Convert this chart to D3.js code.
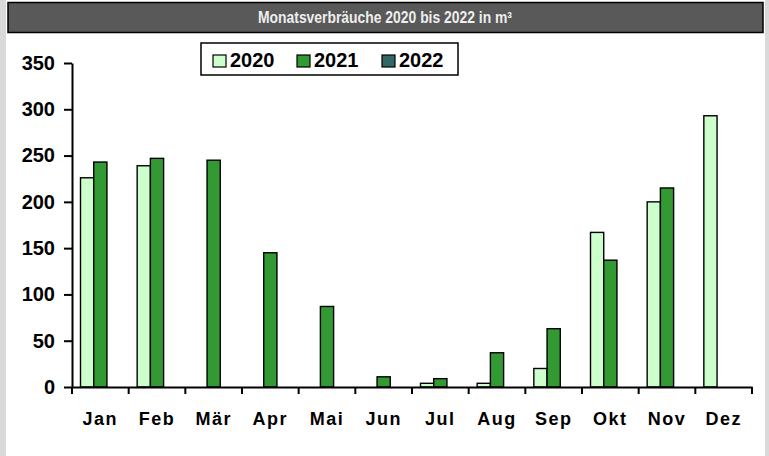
<!DOCTYPE html>
<html>
<head>
<meta charset="utf-8">
<script src="https://cdn.jsdelivr.net/npm/d3@7"></script>
<style>
  body { margin: 0; background: #d9d9d9; }
  svg { display: block; font-family: "Liberation Sans", Arial, sans-serif; }
</style>
</head>
<body>
<svg id="chart"></svg>
<script>
// Daten
let monate = ['Jan', 'Feb', 'Mär', 'Apr', 'Mai', 'Jun', 'Jul', 'Aug', 'Sep', 'Okt', 'Nov', 'Dez'];
let jahre = ['2020', '2021', '2022'];
let werte2020 = [226, 239, null, null, null, null, 4, 4, 20, 167, 200, 293];
let werte2021 = [243, 247, 245, 145, 87, 11, 9, 37, 63, 137, 215, null];
let werte2022 = [null, null, null, null, null, null, null, null, null, null, null, null];
let yTicks = [0, 50, 100, 150, 200, 250, 300, 350];
let farben = ['#ccffcc', '#339933', '#336666'];

let W = 769, H = 456;
let svg = d3.select('#chart').attr('width', W).attr('height', H);

// Hintergrund
svg.append('rect').attr('x', 0).attr('y', 0).attr('width', W).attr('height', H).attr('fill', '#d9d9d9');
svg.append('rect').attr('x', 6).attr('y', 0).attr('width', 759).attr('height', H).attr('fill', '#ffffff');

// Titelleiste
svg.append('rect').attr('x', 8).attr('y', 2.5).attr('width', 755).attr('height', 30)
  .attr('fill', '#595959').attr('stroke', '#000').attr('stroke-width', 1.5);
svg.append('text').attr('x', 385).attr('y', 23).attr('text-anchor', 'middle')
  .attr('fill', '#eeeeee').attr('font-size', 16).attr('font-weight', 'bold')
  .attr('textLength', 254).attr('lengthAdjust', 'spacingAndGlyphs')
  .text('Monatsverbräuche 2020 bis 2022 in m³');

let x = d3.scaleBand().domain(monate).range([72, 752]).paddingInner(0.3).paddingOuter(0.15);
let xs = d3.scaleBand().domain(jahre).range([0, x.bandwidth()]);
let y = d3.scaleLinear().domain([0, 350]).range([387, 63]);

let reihen = [werte2020, werte2021, werte2022];

reihen.forEach(function(reihe, k) {
  svg.append('g').selectAll('rect')
    .data(reihe.map(function(v, i) { return { m: monate[i], v: v }; }).filter(function(d) { return d.v != null; }))
    .enter().append('rect')
    .attr('x', function(d) { return x(d.m) + xs(jahre[k]); })
    .attr('y', function(d) { return y(d.v); })
    .attr('width', xs.bandwidth())
    .attr('height', function(d) { return y(0) - y(d.v); })
    .attr('fill', farben[k])
    .attr('stroke', '#000')
    .attr('stroke-width', 1.4);
});

// Achsen
let yAxis = d3.axisLeft(y).tickValues(yTicks).tickSize(8).tickSizeOuter(0);
let gy = svg.append('g').attr('transform', 'translate(72,0)').call(yAxis);
gy.select('.domain').attr('stroke-width', 2);
gy.selectAll('.tick line').attr('stroke-width', 2);
gy.selectAll('.tick text').attr('font-size', 20).attr('font-weight', 'bold').attr('fill', '#000')
  .attr('font-family', '"Liberation Sans", Arial, sans-serif').attr('x', -17);

let xAxis = d3.axisBottom(x).tickSize(0).tickSizeOuter(0);
let gx = svg.append('g').attr('transform', 'translate(0,387)').call(xAxis);
gx.select('.domain').attr('stroke-width', 2);
gx.selectAll('.tick text').attr('font-size', 18).attr('font-weight', 'bold').attr('fill', '#000')
  .attr('font-family', '"Liberation Sans", Arial, sans-serif').attr('letter-spacing', 1.5)
  .attr('dy', 0).attr('y', 38);

// Trennstriche zwischen Monaten
svg.append('g').selectAll('line').data(d3.range(monate.length + 1))
  .enter().append('line')
  .attr('x1', function(i) { return 72 + i * (680 / monate.length); })
  .attr('x2', function(i) { return 72 + i * (680 / monate.length); })
  .attr('y1', 387).attr('y2', 394)
  .attr('stroke', '#000').attr('stroke-width', 2);

// Legende
let leg = svg.append('g');
leg.append('rect').attr('x', 201).attr('y', 43).attr('width', 257).attr('height', 32)
  .attr('fill', '#fff').attr('stroke', '#000').attr('stroke-width', 1.5);
let legX = [213, 297, 382];
jahre.forEach(function(j, k) {
  leg.append('rect').attr('x', legX[k]).attr('y', 55).attr('width', 13).attr('height', 12)
    .attr('fill', farben[k]).attr('stroke', '#000').attr('stroke-width', 1.2);
  leg.append('text').attr('x', legX[k] + 17).attr('y', 67).attr('font-size', 20).attr('font-weight', 'bold')
    .text(j);
});
</script>
</body>
</html>
